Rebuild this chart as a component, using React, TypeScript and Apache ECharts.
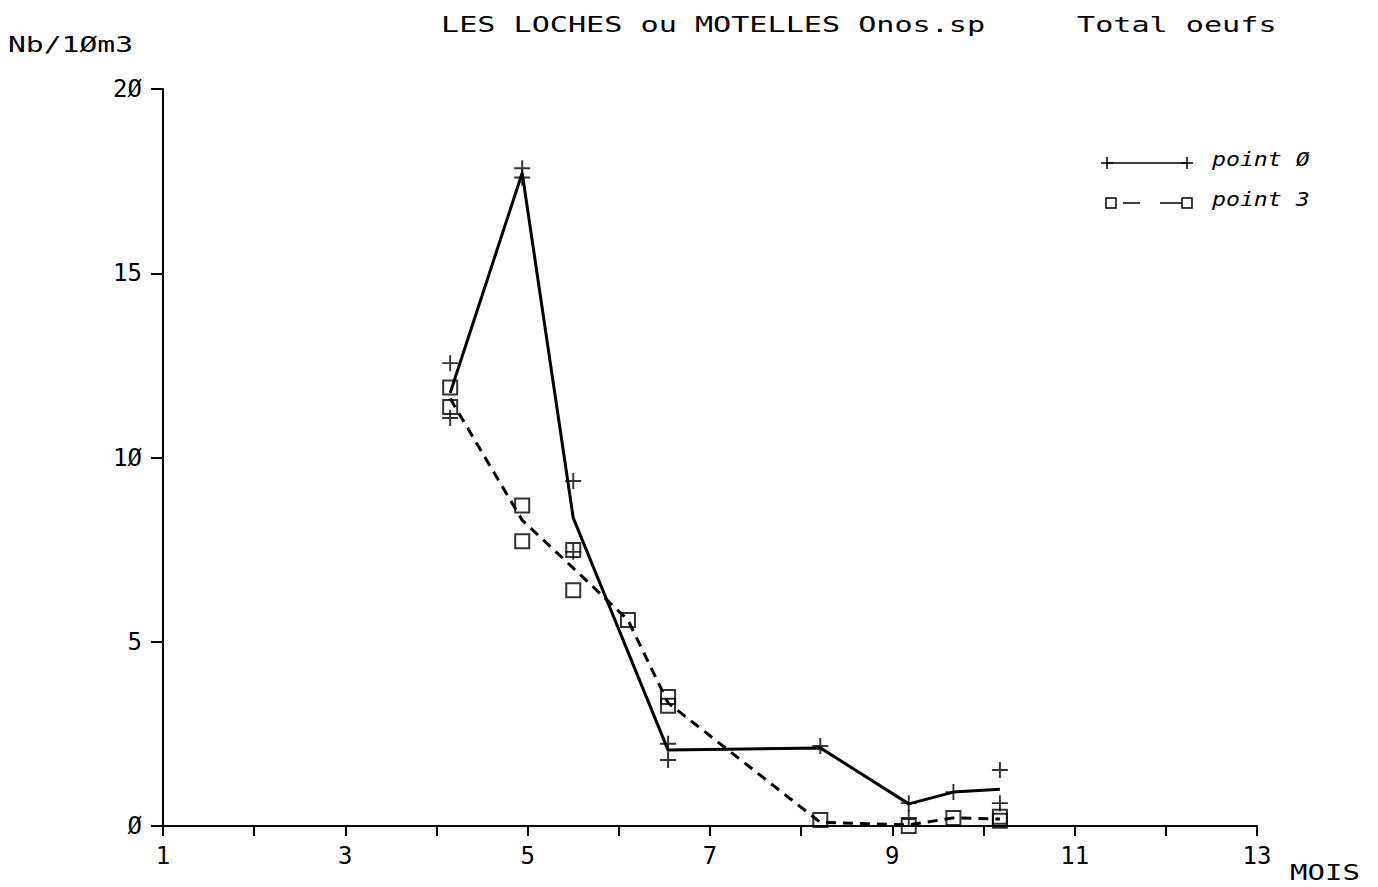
import React, { useEffect, useRef } from 'react';
import * as echarts from 'echarts';

// Months (x) of the solid series "point 0" and its mean values (line)
const months0 = [4.15, 4.94, 5.5, 6.54, 8.21, 9.18, 9.67, 10.18];
const mean0 = [11.75, 17.72, 8.36, 2.06, 2.12, 0.6, 0.92, 1.0];
// replicate values drawn as "+" markers
const reps0 = [[12.56, 11.07], [17.85, 17.6], [9.36, 7.44], [2.23, 1.79], [2.17], [0.62, 0.22], [0.92], [1.52, 0.62]];

// Months of the dashed series "point 3" and its mean values (line)
const months3 = [4.15, 4.94, 5.5, 6.1, 6.54, 8.21, 9.18, 9.67, 10.18];
const mean3 = [11.6, 8.3, 7.0, 5.59, 3.34, 0.1, 0.03, 0.22, 0.19];
// replicate values drawn as squares
const reps3 = [[11.9, 11.37], [8.7, 7.73], [7.49, 6.4], [5.59], [3.5, 3.26], [0.16], [0], [0.22], [0.25, 0.14]];

const xMin = 1, xMax = 13, xStep = 1;
const yMin = 0, yMax = 20, yStep = 5;

const titleLeft = 'LES LOCHES ou MOTELLES Onos.sp';
const titleRight = 'Total oeufs';
const yName = 'Nb/1Øm3';
const xName = 'MOIS';
const legendNames = ['point Ø', 'point 3'];

const FONT = 'DejaVu Sans Mono';
const slash = (v: number | string) => String(v).replace(/0/g, 'Ø');

const PLUS = 'path://M4.4,0h1.2v4.4h4.4v1.2h-4.4v4.4h-1.2v-4.4h-4.4v-1.2h4.4z';

function pairs(months: number[], vals: number[]) {
  return months.map((m, i) => [m, vals[i]]);
}
function repPairs(months: number[], reps: number[][]) {
  const out: number[][] = [];
  months.forEach((m, i) => reps[i].forEach((v) => out.push([m, v])));
  return out;
}

export default function App() {
  const ref = useRef<HTMLDivElement>(null);
  useEffect(() => {
    if (!ref.current) return;
    const chart = echarts.init(ref.current, undefined, { renderer: 'svg' });
    const txt = (x: number, y: number, text: string, size: number, sx: number, italic = false) => ({
      type: 'text',
      x,
      y,
      scaleX: sx,
      style: {
        text,
        x: 0,
        y: 0,
        font: `${italic ? 'italic ' : ''}${size}px "${FONT}"`,
        fill: '#000',
        textAlign: 'left',
        textVerticalAlign: 'middle',
        align: 'left',
        verticalAlign: 'middle',
      },
    });
    const ls = (x1: number, y1: number, x2: number, y2: number, w = 1.5) => ({
      type: 'line',
      shape: { x1, y1, x2, y2 },
      style: { stroke: '#000', lineWidth: w },
    });
    const sq = (cx: number, cy: number, s = 10) => ({
      type: 'rect',
      shape: { x: cx - s / 2, y: cy - s / 2, width: s, height: s },
      style: { fill: 'none', stroke: '#000', lineWidth: 1.5 },
    });
    chart.setOption({
      animation: false,
      backgroundColor: '#fff',
      grid: { left: 163, right: 121, top: 89, bottom: 61, containLabel: false },
      xAxis: {
        type: 'value',
        min: xMin,
        max: xMax,
        interval: xStep,
        axisLine: { show: true, onZero: false, lineStyle: { color: '#000', width: 2 } },
        axisTick: { show: true, length: 10, lineStyle: { color: '#000', width: 2 } },
        axisLabel: {
          interval: 1,
          margin: 18,
          color: '#000',
          fontFamily: FONT,
          fontSize: 24,
          formatter: (v: number) => (Math.round(v) % 2 === 1 ? slash(v) : ''),
        },
        splitLine: { show: false },
      },
      yAxis: {
        type: 'value',
        min: yMin,
        max: yMax,
        interval: yStep,
        axisLine: { show: true, lineStyle: { color: '#000', width: 2 } },
        axisTick: { show: true, length: 12, lineStyle: { color: '#000', width: 2 } },
        axisLabel: {
          margin: 21,
          color: '#000',
          fontFamily: FONT,
          fontSize: 24,
          formatter: (v: number) => slash(v),
        },
        splitLine: { show: false },
      },
      series: [
        {
          name: legendNames[0],
          type: 'line',
          data: pairs(months0, mean0),
          symbol: 'none',
          lineStyle: { color: '#000', width: 3 },
          z: 3,
        },
        {
          name: legendNames[1],
          type: 'line',
          data: pairs(months3, mean3),
          symbol: 'none',
          lineStyle: { color: '#000', width: 3, type: [10, 7] },
          z: 3,
        },
        {
          name: legendNames[0] + ' rep',
          type: 'scatter',
          data: repPairs(months0, reps0),
          symbol: PLUS,
          symbolSize: 16,
          itemStyle: { color: '#000' },
          z: 4,
        },
        {
          name: legendNames[1] + ' rep',
          type: 'scatter',
          data: repPairs(months3, reps3),
          symbol: 'rect',
          symbolSize: 14,
          itemStyle: { color: 'rgba(0,0,0,0)', borderColor: '#000', borderWidth: 2 },
          z: 4,
        },
      ],
      graphic: [
        txt(441, 24, titleLeft, 22, 1.37),
        txt(1077, 24, titleRight, 22, 1.37),
        txt(8, 44, yName, 22, 1.35),
        txt(1290, 872, xName, 22, 1.32),
        // legend 1
        ls(1107, 163, 1187, 163),
        ls(1107, 157, 1107, 169),
        ls(1101, 163, 1113, 163),
        ls(1187, 157, 1187, 169),
        ls(1181, 163, 1193, 163),
        txt(1212, 159, legendNames[0], 20, 1.16, true),
        // legend 2
        sq(1111, 203),
        ls(1123, 203, 1140, 203),
        ls(1160, 203, 1182, 203),
        sq(1187, 203),
        txt(1212, 199, legendNames[1], 20, 1.16, true),
      ],
    });
    return () => chart.dispose();
  }, []);
  return (
    <div
      ref={ref}
      style={{ position: 'absolute', left: 0, top: 0, width: 1378, height: 887, background: '#fff' }}
    />
  );
}
